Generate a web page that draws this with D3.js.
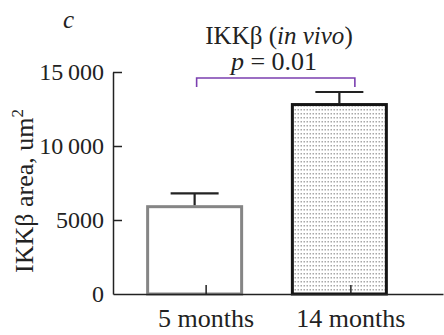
<!DOCTYPE html>
<html>
<head>
<meta charset="utf-8">
<script src="https://cdn.jsdelivr.net/npm/d3@7"></script>
<style>
  html, body { margin: 0; padding: 0; background: #fff; }
</style>
</head>
<body>
<svg id="chart" width="444" height="335"></svg>
<script>
const categories = ["5 months", "14 months"];
const means = [5900, 12800];
const errors = [900, 850];
const yTicks = [0, 5000, 10000, 15000];
const yTickLabels = ["0", "5000", "10\u2009000", "15\u2009000"];
const pValueText = "0.01";

const FONT = '"Liberation Serif"';
const svg = d3.select("#chart");
const W = 444, H = 335;
const margin = { left: 113, right: 1, top: 72, bottom: 41 };

const y = d3.scaleLinear().domain([0, 15000]).range([H - margin.bottom, margin.top]);
const x = d3.scalePoint().domain(categories).range([margin.left, W - margin.right]).padding(0.64);
const barW = 94;
const barShift = -11;

// pattern
const defs = svg.append("defs");
const pat = defs.append("pattern").attr("id", "dots").attr("patternUnits", "userSpaceOnUse")
  .attr("width", 3).attr("height", 4);
pat.append("rect").attr("width", 3).attr("height", 4).attr("fill", "#fff");
pat.append("rect").attr("x", 0.5).attr("y", 1).attr("width", 1.5).attr("height", 1.5).attr("fill", "#a8a8a8");

// bars
const barStyles = [
  { fill: "#fff", stroke: "#858585" },
  { fill: "url(#dots)", stroke: "#151515" }
];
categories.forEach((c, i) => {
  const cx = x(c) + barShift;
  svg.append("rect")
    .attr("x", cx - barW / 2)
    .attr("y", y(means[i]))
    .attr("width", barW)
    .attr("height", y(0) - y(means[i]))
    .attr("fill", barStyles[i].fill)
    .attr("stroke", barStyles[i].stroke)
    .attr("stroke-width", 3);
  svg.append("line")
    .attr("x1", cx).attr("x2", cx)
    .attr("y1", y(means[i]) - 1.5).attr("y2", y(means[i] + errors[i]))
    .attr("stroke", "#222").attr("stroke-width", 2.2);
  svg.append("line")
    .attr("x1", cx - 24).attr("x2", cx + 24)
    .attr("y1", y(means[i] + errors[i])).attr("y2", y(means[i] + errors[i]))
    .attr("stroke", "#222").attr("stroke-width", 2.2);
});

// axes
const yAxis = d3.axisLeft(y).tickValues(yTicks).tickFormat((d, i) => yTickLabels[i])
  .tickSizeInner(-9).tickSizeOuter(0).tickPadding(9);
const gy = svg.append("g").attr("transform", `translate(${margin.left},0)`).call(yAxis);
gy.attr("font-family", null).attr("font-size", null);
gy.selectAll("path, line").attr("stroke", "#222").attr("stroke-width", 1.5);
gy.selectAll("text").attr("fill", "#222").style("font-size", "24px").style("font-family", FONT);
gy.selectAll(".tick").filter(d => d === 0).select("line").remove();

const xAxis = d3.axisBottom(x).tickSizeInner(-9).tickSizeOuter(0).tickPadding(15);
const gx = svg.append("g").attr("transform", `translate(0,${y(0)})`).call(xAxis);
gx.attr("font-family", null).attr("font-size", null);
gx.selectAll("path, line").attr("stroke", "#222").attr("stroke-width", 1.5);
gx.selectAll("text").attr("fill", "#222").style("font-size", "26px").style("font-family", FONT);

// y label
svg.append("text")
  .attr("transform", `translate(33,${(y(0) + y(15000)) / 2 + 8}) rotate(-90)`)
  .attr("text-anchor", "middle").attr("fill", "#222")
  .style("font-size", "26px").style("font-family", FONT)
  .html('IKKβ area, um<tspan dy="-10" style="font-size:17px">2</tspan>');

// panel letter
svg.append("text").attr("x", 63).attr("y", 28)
  .style("font-size", "25px").style("font-family", FONT)
  .attr("font-style", "italic").attr("fill", "#222").text("c");

// title
const title = svg.append("text").attr("x", 279).attr("y", 44).attr("text-anchor", "middle")
  .style("font-size", "25px").style("font-family", FONT).attr("fill", "#222");
title.append("tspan").text("IKKβ (");
title.append("tspan").attr("font-style", "italic").text("in vivo");
title.append("tspan").text(")");

const pt = svg.append("text").attr("x", 274).attr("y", 70).attr("text-anchor", "middle")
  .style("font-size", "26px").style("font-family", FONT).attr("fill", "#222");
pt.append("tspan").attr("font-style", "italic").text("p");
pt.append("tspan").text(" = " + pValueText);

// significance bracket
const bx1 = x(categories[0]) + barShift + 2, bx2 = x(categories[1]) + barShift + 15.5;
const by = 78;
svg.append("path")
  .attr("d", `M${bx1},${by + 9}V${by}H${bx2}V${by + 9}`)
  .attr("fill", "none").attr("stroke", "#7b3fb0").attr("stroke-width", 1.6);
</script>
</body>
</html>
